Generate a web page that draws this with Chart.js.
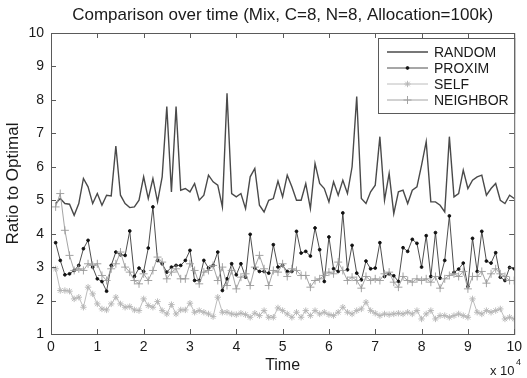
<!DOCTYPE html>
<html>
<head>
<meta charset="utf-8">
<script src="https://cdn.jsdelivr.net/npm/chart.js@4.4.0/dist/chart.umd.min.js"></script>
<style>
  html, body { margin: 0; padding: 0; background: #fff; }
  #wrap { width: 527px; height: 378px; position: relative; }
</style>
</head>
<body>
<div id="wrap"><canvas id="chart" width="527" height="378"></canvas></div>
<script>
// time in units of 10^4
var timeSteps = [0.1,0.2,0.3,0.4,0.5,0.6,0.7,0.8,0.9,1.0,
  1.1,1.2,1.3,1.4,1.5,1.6,1.7,1.8,1.9,2.0,
  2.1,2.2,2.3,2.4,2.5,2.6,2.7,2.8,2.9,3.0,
  3.1,3.2,3.3,3.4,3.5,3.6,3.7,3.8,3.9,4.0,
  4.1,4.2,4.3,4.4,4.5,4.6,4.7,4.8,4.9,5.0,
  5.1,5.2,5.3,5.4,5.5,5.6,5.7,5.8,5.9,6.0,
  6.1,6.2,6.3,6.4,6.5,6.6,6.7,6.8,6.9,7.0,
  7.1,7.2,7.3,7.4,7.5,7.6,7.7,7.8,7.9,8.0,
  8.1,8.2,8.3,8.4,8.5,8.6,8.7,8.8,8.9,9.0,
  9.1,9.2,9.3,9.4,9.5,9.6,9.7,9.8,9.9,10.0];

var randomVals = [4.9,5.05,4.9,4.88,4.55,4.9,5.65,5.4,4.9,5.2,
  4.85,5.15,5.13,6.62,5.15,4.9,4.78,4.8,5.0,5.7,
  5.05,5.65,4.95,5.7,7.8,5.25,7.8,5.3,5.35,5.25,
  5.5,5.0,5.15,5.75,5.55,5.45,4.8,8.2,5.2,5.1,
  5.2,4.75,5.7,5.95,4.85,4.65,5.0,5.05,5.57,5.1,
  5.75,5.4,5.0,5.0,5.5,4.75,6.1,5.5,5.35,4.95,
  5.55,5.15,5.6,5.2,6.0,8.1,5.05,4.9,5.25,5.45,
  6.9,5.0,5.8,4.6,5.25,5.3,4.9,5.3,5.4,6.05,
  6.75,4.95,4.95,4.85,4.65,6.9,5.1,5.2,5.9,5.35,
  5.6,5.7,5.75,5.15,5.35,5.5,5.0,4.9,5.15,5.05];

var proximVals = [3.73,3.2,2.77,2.8,2.9,3.05,3.55,3.8,3.0,2.65,
  2.57,2.28,3.05,3.45,3.37,3.35,4.08,2.72,2.97,2.87,
  3.57,4.8,3.2,3.1,2.85,3.0,3.05,3.05,3.2,3.5,
  2.6,2.6,3.2,2.97,3.05,3.45,2.3,2.65,3.1,2.77,
  3.1,2.7,3.98,2.97,2.87,2.87,2.82,3.67,3.0,3.05,
  2.87,2.87,4.07,3.42,3.47,3.33,4.17,3.52,2.57,3.9,
  2.95,2.87,4.62,2.92,3.65,2.82,2.62,3.18,2.95,2.97,
  3.73,2.72,2.8,2.74,2.57,3.58,3.47,3.83,3.71,3.0,
  3.94,2.72,4.03,2.67,3.2,4.53,2.84,2.94,3.12,2.42,
  3.86,2.87,4.07,3.18,3.12,3.43,2.7,2.6,2.99,2.95];

var selfVals = [2.95,2.3,2.3,2.28,2.05,2.1,1.8,2.4,2.2,1.9,
  1.75,1.72,1.9,2.1,1.9,1.8,1.82,1.72,1.7,2.05,
  1.85,1.8,1.97,1.7,1.6,1.88,1.6,1.72,1.72,1.92,
  1.65,1.7,1.65,1.6,1.52,2.1,1.65,1.65,1.6,1.58,
  1.62,1.58,1.5,1.62,1.55,1.7,1.5,1.5,1.78,1.7,
  1.6,1.5,1.65,1.5,1.7,1.55,1.7,1.6,1.65,1.58,
  1.55,1.65,1.8,1.65,1.6,1.7,1.75,1.95,1.7,1.62,
  1.55,1.6,1.58,1.6,1.62,1.6,1.65,1.6,1.7,1.45,
  1.6,1.7,1.45,1.55,1.55,1.5,1.55,1.6,1.55,1.5,
  2.05,1.65,1.6,1.7,1.65,1.7,1.75,1.45,1.5,1.45];

var neighborVals = [4.8,5.2,4.1,3.35,2.9,2.95,2.9,3.1,3.05,3.1,
  2.75,2.6,2.95,3.1,3.45,3.0,2.85,2.6,2.5,2.8,
  2.6,2.9,3.3,3.15,2.65,2.85,2.95,2.65,2.65,3.1,
  2.9,2.5,2.85,2.9,3.05,2.6,3.0,2.45,2.9,2.35,
  2.7,2.8,2.45,3.0,3.35,2.95,2.45,2.9,2.85,3.1,
  2.72,2.95,2.9,2.75,2.75,2.4,2.6,2.65,2.75,2.85,
  2.8,3.15,2.9,2.6,2.7,2.6,2.37,2.72,2.6,2.65,
  2.6,2.8,2.85,2.55,2.4,2.72,2.6,2.55,2.65,2.6,
  2.65,2.55,2.72,2.37,2.65,2.75,2.8,2.72,2.87,2.35,
  2.72,2.72,2.87,2.52,2.8,2.95,2.8,2.72,2.6,2.6];

var xTicks = [0,1,2,3,4,5,6,7,8,9,10];
var yTicks = [1,2,3,4,5,6,7,8,9,10];
var chartTitle = 'Comparison over time (Mix, C=8, N=8, Allocation=100k)';

function pts(vals) {
  return vals.map(function (v, i) { return { x: timeSteps[i], y: v }; });
}

var FONT = 'Liberation Sans, Arial, Helvetica, sans-serif';
var AXIS = '#5a5a5a';
var TEXT = '#1a1a1a';

var series = [
  { label: 'RANDOM', data: randomVals, color: '#4a4a4a', width: 1.4, style: false, radius: 0, fill: '#4a4a4a' },
  { label: 'PROXIM', data: proximVals, color: '#3a3a3a', width: 0.9, style: 'circle', radius: 1.4, fill: '#111' },
  { label: 'SELF', data: selfVals, color: '#b4b4b4', width: 0.9, style: 'star', radius: 3.2, fill: '#b4b4b4' },
  { label: 'NEIGHBOR', data: neighborVals, color: '#9a9a9a', width: 0.9, style: 'cross', radius: 4, fill: '#9a9a9a' }
];

var datasets = series.map(function (s, i) {
  return {
    label: s.label,
    data: pts(s.data),
    borderColor: s.color,
    backgroundColor: s.fill,
    borderWidth: s.width,
    pointStyle: s.style,
    pointRadius: s.radius,
    pointBorderColor: s.style === 'circle' ? s.fill : s.color,
    pointBackgroundColor: s.fill,
    pointBorderWidth: 0.9,
    tension: 0,
    order: series.length - i
  };
});

// box + inward ticks + title + legend + exponent, matlab style
var matlabFrame = {
  id: 'matlabFrame',
  afterDraw: function (chart) {
    var ctx = chart.ctx, a = chart.chartArea;
    var xs = chart.scales.x, ys = chart.scales.y;
    ctx.save();
    ctx.strokeStyle = AXIS;
    ctx.lineWidth = 1;
    ctx.strokeRect(a.left + 0.5, a.top + 0.5, a.right - a.left, a.bottom - a.top);
    ctx.beginPath();
    xTicks.forEach(function (t) {
      var px = Math.round(xs.getPixelForValue(t)) + 0.5;
      ctx.moveTo(px, a.bottom); ctx.lineTo(px, a.bottom - 5);
      ctx.moveTo(px, a.top); ctx.lineTo(px, a.top + 5);
    });
    yTicks.forEach(function (t) {
      var py = Math.round(ys.getPixelForValue(t)) + 0.5;
      ctx.moveTo(a.left, py); ctx.lineTo(a.left + 5, py);
      ctx.moveTo(a.right, py); ctx.lineTo(a.right - 5, py);
    });
    ctx.stroke();

    // title, centred over the axes like matlab does
    ctx.fillStyle = TEXT;
    ctx.font = '17px ' + FONT;
    ctx.textAlign = 'center';
    ctx.textBaseline = 'middle';
    ctx.fillText(chartTitle, (a.left + a.right) / 2, 15);

    // legend
    var lx = 378, ly = 38, lw = a.right - lx, lh = 75;
    ctx.fillStyle = '#fff';
    ctx.fillRect(lx, ly, lw, lh);
    ctx.strokeStyle = AXIS;
    ctx.strokeRect(lx + 0.5, ly + 0.5, lw, lh);
    ctx.font = '14px ' + FONT;
    ctx.textBaseline = 'middle';
    series.forEach(function (s, i) {
      var yy = ly + 14 + i * 16;
      ctx.strokeStyle = s.color;
      ctx.lineWidth = s.width;
      ctx.beginPath();
      ctx.moveTo(387, yy); ctx.lineTo(428, yy);
      ctx.stroke();
      if (s.style) {
        ctx.fillStyle = s.fill;
        ctx.strokeStyle = s.style === 'circle' ? s.fill : s.color;
        ctx.lineWidth = 0.9;
        Chart.helpers.drawPoint(ctx, {
          pointStyle: s.style, radius: s.radius, rotation: 0, borderWidth: 0.9
        }, 407.5, yy);
      }
      ctx.fillStyle = TEXT;
      ctx.textAlign = 'left';
      ctx.fillText(s.label, 434, yy + 1);
    });

    // x 10^4 multiplier
    ctx.fillStyle = TEXT;
    ctx.textAlign = 'left';
    ctx.textBaseline = 'alphabetic';
    ctx.font = '13px ' + FONT;
    ctx.fillText('x 10', 490, 375);
    ctx.font = '9px ' + FONT;
    ctx.fillText('4', 516, 365);
    ctx.restore();
  }
};

new Chart(document.getElementById('chart'), {
  type: 'line',
  data: { datasets: datasets },
  options: {
    responsive: false,
    animation: false,
    layout: { padding: { left: 0, right: 6, top: 33, bottom: 0 } },
    plugins: {
      legend: { display: false },
      tooltip: { enabled: false },
      title: { display: false }
    },
    scales: {
      x: {
        type: 'linear',
        min: 0, max: 10,
        afterBuildTicks: function (s) { s.ticks = xTicks.map(function (v) { return { value: v }; }); },
        afterFit: function (s) { s.height = 44; },
        grid: { display: false, drawTicks: false },
        border: { display: false },
        ticks: { color: TEXT, font: { family: FONT, size: 14 }, padding: 5, maxRotation: 0 },
        title: { display: true, text: 'Time', color: TEXT, font: { family: FONT, size: 16 }, padding: { top: 0, bottom: 3 } }
      },
      y: {
        type: 'linear',
        min: 1, max: 10,
        afterBuildTicks: function (s) { s.ticks = yTicks.map(function (v) { return { value: v }; }); },
        afterFit: function (s) { s.width = 51; },
        grid: { display: false, drawTicks: false },
        border: { display: false },
        ticks: { color: TEXT, font: { family: FONT, size: 14 }, padding: 7 },
        title: { display: true, text: 'Ratio to Optimal', color: TEXT, font: { family: FONT, size: 17 }, padding: { top: 3, bottom: 0 } }
      }
    }
  },
  plugins: [matlabFrame]
});
</script>
</body>
</html>
